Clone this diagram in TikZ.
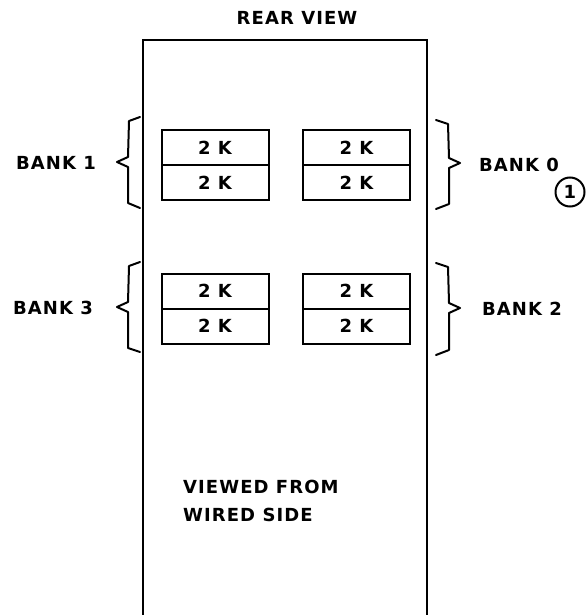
\documentclass[tikz,border=0pt]{standalone}
\usepackage{fontspec}
\newfontfamily\lettering{DejaVu Sans}[LetterSpace=6]
\tikzset{
  label/.style={font=\lettering\bfseries\fontsize{18}{28}\selectfont,inner sep=0pt},
  module/.style={draw,line width=2pt,minimum width=107pt,minimum height=35pt,
    inner sep=0pt,font=\lettering\bfseries\fontsize{18}{20}\selectfont},
  bracket/.style={line width=2pt,line join=round,line cap=round}
}
\begin{document}
\begin{tikzpicture}[x=1pt,y=-1pt]
  \useasboundingbox (0,0) rectangle (586,615);
  % panel outline, open at the bottom
  \draw[line width=2.2pt] (143,615) -- (143,40) -- (427,40) -- (427,615);
  \node[label] (title) at (297,18) {REAR VIEW};

  % memory modules
  \node[module] (b1a) at (215,147.5) {2 K};
  \node[module] (b1b) at (215,182.5) {2 K};
  \node[module] (b0a) at (356.5,147.5) {2 K};
  \node[module] (b0b) at (356.5,182.5) {2 K};
  \node[module] (b3a) at (215,291) {2 K};
  \node[module] (b3b) at (215,326) {2 K};
  \node[module] (b2a) at (356.5,291) {2 K};
  \node[module] (b2b) at (356.5,326) {2 K};

  % braces
  \draw[bracket] (140,117) -- (129,121) -- (128,157) -- (117,162)
    -- (128,167) -- (128,203) -- (140,208);
  \draw[bracket] (436,120) -- (448,124) -- (449,158) -- (460,163)
    -- (449,168) -- (449,204) -- (436,209);
  \draw[bracket] (140,262) -- (129,266) -- (128,302) -- (117,307)
    -- (128,312) -- (128,348) -- (140,352);
  \draw[bracket] (436,263) -- (448,267) -- (449,303) -- (460,308)
    -- (449,313) -- (449,350) -- (436,355);

  \node[label,anchor=west] (bank1) at (16,163) {BANK 1};
  \node[label,anchor=west] (bank0) at (479,165) {BANK 0};
  \node[label,anchor=west] (bank3) at (13,308) {BANK 3};
  \node[label,anchor=west] (bank2) at (482,309) {BANK 2};
  \node[label,draw,circle,line width=2pt,minimum size=29pt] (sheet) at (570,192) {1};

  \node[label,anchor=west,align=left] (note) at (183,501) {VIEWED FROM\\WIRED SIDE};
\end{tikzpicture}
\end{document}
